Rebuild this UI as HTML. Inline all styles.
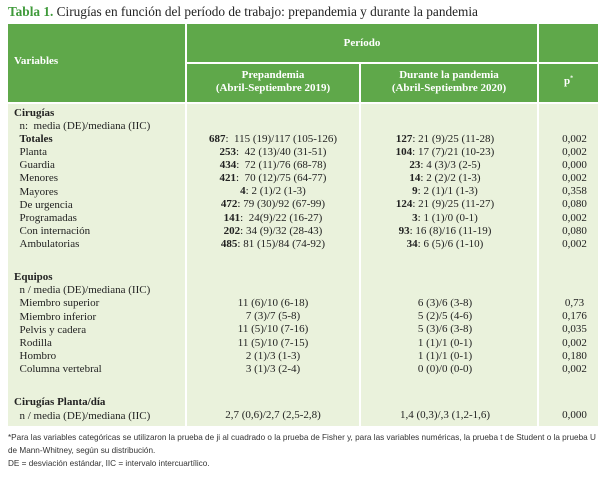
<!DOCTYPE html>
<html><head><meta charset="utf-8"><style>
body{margin:0;width:606px;height:477px;background:#fff;position:relative;font-family:"Liberation Serif",serif;color:#222;overflow:hidden}
.a{position:absolute;white-space:nowrap}
.g{position:absolute;background:#5fa84a}
.l{position:absolute;background:#eaf2dc}
.h{color:#fff;font-weight:bold;font-size:11px}
.t{font-size:11px;line-height:13.1px}
.c{text-align:center}
</style></head><body>
<div class="a" style="left:8px;top:4px;font-size:13.3px"><b style="color:#3f9a3a">Tabla 1.</b> Cirugías en función del período de trabajo: prepandemia y durante la pandemia</div>
<div class="g" style="left:8px;top:24px;width:177px;height:78px"></div>
<div class="g" style="left:187px;top:24px;width:350px;height:38px"></div>
<div class="g" style="left:539px;top:24px;width:59px;height:38px"></div>
<div class="g" style="left:187px;top:64px;width:172px;height:38px"></div>
<div class="g" style="left:361px;top:64px;width:176px;height:38px"></div>
<div class="g" style="left:539px;top:64px;width:59px;height:38px"></div>
<div class="a h" style="left:14px;top:55px">Variables</div>
<div class="a h c" style="left:187px;top:37px;width:350px">Período</div>
<div class="a h c" style="left:187px;top:69px;width:172px;line-height:13px">Prepandemia<br>(Abril-Septiembre 2019)</div>
<div class="a h c" style="left:361px;top:69px;width:176px;line-height:13px">Durante la pandemia<br>(Abril-Septiembre 2020)</div>
<div class="a h c" style="left:539px;top:75px;width:59px">p<sup style="font-size:6px">*</sup></div>
<div class="l" style="left:8px;top:104px;width:177px;height:322px"></div>
<div class="l" style="left:187px;top:104px;width:172px;height:322px"></div>
<div class="l" style="left:361px;top:104px;width:176px;height:322px"></div>
<div class="l" style="left:539px;top:104px;width:59px;height:322px"></div>

<div class="a t" style="left:14px;top:107px"><b>Cirugías</b><br>&nbsp;&nbsp;n: &nbsp;media (DE)/mediana (IIC)<br>&nbsp;&nbsp;<b>Totales</b><br>&nbsp;&nbsp;Planta<br>&nbsp;&nbsp;Guardia<br>&nbsp;&nbsp;Menores<br>&nbsp;&nbsp;Mayores<br>&nbsp;&nbsp;De urgencia<br>&nbsp;&nbsp;Programadas<br>&nbsp;&nbsp;Con internación<br>&nbsp;&nbsp;Ambulatorias</div>
<div class="a t c" style="left:187px;top:133px;width:172px"><b>687</b>: &nbsp;115 (19)/117 (105-126)<br><b>253</b>: &nbsp;42 (13)/40 (31-51)<br><b>434</b>: &nbsp;72 (11)/76 (68-78)<br><b>421</b>: &nbsp;70 (12)/75 (64-77)<br><b>4</b>: 2 (1)/2 (1-3)<br><b>472</b>: 79 (30)/92 (67-99)<br><b>141</b>: &nbsp;24(9)/22 (16-27)<br><b>202</b>: 34 (9)/32 (28-43)<br><b>485</b>: 81 (15)/84 (74-92)</div>
<div class="a t c" style="left:361px;top:133px;width:168px"><b>127</b>: 21 (9)/25 (11-28)<br><b>104</b>: 17 (7)/21 (10-23)<br><b>23</b>: 4 (3)/3 (2-5)<br><b>14</b>: 2 (2)/2 (1-3)<br><b>9</b>: 2 (1)/1 (1-3)<br><b>124</b>: 21 (9)/25 (11-27)<br><b>3</b>: 1 (1)/0 (0-1)<br><b>93</b>: 16 (8)/16 (11-19)<br><b>34</b>: 6 (5)/6 (1-10)</div>
<div class="a t c" style="left:545px;top:133px;width:59px">0,002<br>0,002<br>0,000<br>0,002<br>0,358<br>0,080<br>0,002<br>0,080<br>0,002</div>

<div class="a t" style="left:14px;top:271px;line-height:13.2px"><b>Equipos</b><br>&nbsp;&nbsp;n / media (DE)/mediana (IIC)<br>&nbsp;&nbsp;Miembro superior<br>&nbsp;&nbsp;Miembro inferior<br>&nbsp;&nbsp;Pelvis y cadera<br>&nbsp;&nbsp;Rodilla<br>&nbsp;&nbsp;Hombro<br>&nbsp;&nbsp;Columna vertebral</div>
<div class="a t c" style="left:187px;top:297px;width:172px;line-height:13.2px">11 (6)/10 (6-18)<br>7 (3)/7 (5-8)<br>11 (5)/10 (7-16)<br>11 (5)/10 (7-15)<br>2 (1)/3 (1-3)<br>3 (1)/3 (2-4)</div>
<div class="a t c" style="left:361px;top:297px;width:168px;line-height:13.2px">6 (3)/6 (3-8)<br>5 (2)/5 (4-6)<br>5 (3)/6 (3-8)<br>1 (1)/1 (0-1)<br>1 (1)/1 (0-1)<br>0 (0)/0 (0-0)</div>
<div class="a t c" style="left:545px;top:297px;width:59px;line-height:13.2px">0,73<br>0,176<br>0,035<br>0,002<br>0,180<br>0,002</div>

<div class="a t" style="left:14px;top:395px;line-height:14px"><b>Cirugías Planta/día</b><br>&nbsp;&nbsp;n / media (DE)/mediana (IIC)</div>
<div class="a t c" style="left:187px;top:409px;width:172px">2,7 (0,6)/2,7 (2,5-2,8)</div>
<div class="a t c" style="left:361px;top:409px;width:168px">1,4 (0,3)/,3 (1,2-1,6)</div>
<div class="a t c" style="left:545px;top:409px;width:59px">0,000</div>

<div class="a" style="left:8px;top:431px;font-size:8.2px;line-height:13px;font-family:'Liberation Sans',sans-serif;color:#333">*Para las variables categóricas se utilizaron la prueba de ji al cuadrado o la prueba de Fisher y, para las variables numéricas, la prueba t de Student o la prueba U<br>de Mann-Whitney, según su distribución.<br>DE = desviación estándar, IIC = intervalo intercuartílico.</div>
</body></html>
